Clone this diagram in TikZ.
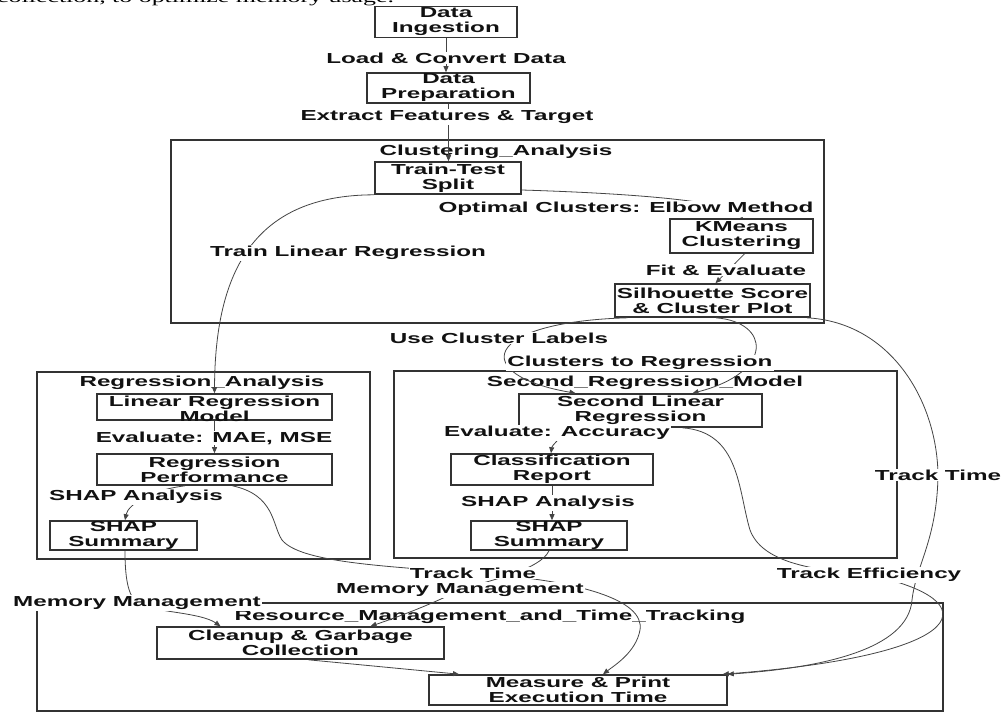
\documentclass[tikz,border=0pt]{standalone}
\usepackage{fontspec}
\setmainfont{Liberation Sans}[FakeStretch=1.67]
\newfontfamily\serifwide{Liberation Serif}[FakeStretch=1.67]
\usetikzlibrary{arrows.meta}
\definecolor{boxc}{HTML}{333333}
\definecolor{edgec}{HTML}{444444}
\definecolor{txtc}{HTML}{111111}
\newcommand\labfont{\fontsize{14.5}{15}\selectfont\bfseries}
\begin{document}
\begin{tikzpicture}[x=1pt,y=-1pt,
  box/.style={draw=boxc, line width=1.6pt, inner sep=0pt, align=center, font=\labfont, text=txtc},
  clus/.style={draw=boxc, line width=1.6pt},
  ctitle/.style={font=\labfont, text=txtc, inner sep=0pt},
  elab/.style={font=\labfont, text=txtc, fill=white, inner sep=1pt},
  edge/.style={draw=edgec, line width=0.8pt, -{Triangle[length=6pt,width=5pt]}},
]
\useasboundingbox (0,0) rectangle (1001,713);
\fill[white] (0,0) rectangle (1001,713);

% cut-off text of the page above
\node[anchor=base west, inner sep=0pt, font=\serifwide\fontsize{15.5}{18}\selectfont, text=black] (toptext) at (-3,2) {collection, to optimize memory usage.};

% clusters
\draw[clus] (171,140) rectangle (824,323);
\draw[clus] (37,372) rectangle (370,559);
\draw[clus] (394,371) rectangle (897,558);
\draw[clus] (37,603) rectangle (943,711);
\node[ctitle] (tclus) at (496,152) {Clustering\_Analysis};
\node[ctitle] (treg) at (202,383) {Regression\_Analysis};
\node[ctitle] (tsec) at (645,383) {Second\_Regression\_Model};
\node[ctitle] (tres) at (490,617) {Resource\_Management\_and\_Time\_Tracking};

% boxes
\node[box, minimum width=142pt, minimum height=31pt] (DI) at (446,22) {Data\\Ingestion};
\node[box, minimum width=163pt, minimum height=30pt] (DP) at (448.5,88) {Data\\Preparation};
\node[box, minimum width=146pt, minimum height=32pt] (TTS) at (448,178) {Train-Test\\Split};
\node[box, minimum width=143pt, minimum height=34pt] (KM) at (741.5,236) {KMeans\\Clustering};
\node[box, minimum width=195pt, minimum height=33pt] (SIL) at (712.5,300.5) {Silhouette Score\\\& Cluster Plot};
\node[box, minimum width=235pt, minimum height=26pt] (LRM) at (214.5,407) {};
\node[font=\labfont, align=center, inner sep=0pt, text=txtc] (LRMt) at (214.5,409) {Linear Regression\\Model};
\node[box, minimum width=235pt, minimum height=31pt] (RP) at (214.5,469.5) {Regression\\Performance};
\node[box, minimum width=147pt, minimum height=29pt] (SHAPL) at (123.5,535.5) {SHAP\\Summary};
\node[box, minimum width=243pt, minimum height=33pt] (SLR) at (640.5,410.5) {Second Linear\\Regression};
\node[box, minimum width=202pt, minimum height=31pt] (CR) at (552,469.5) {Classification\\Report};
\node[box, minimum width=156pt, minimum height=29pt] (SHAPR) at (549,535.5) {SHAP\\Summary};
\node[box, minimum width=287pt, minimum height=32pt] (CGC) at (300.5,643) {Cleanup \& Garbage\\Collection};
\node[box, minimum width=298pt, minimum height=30pt] (MPT) at (578,690) {Measure \& Print\\Execution Time};

% label positions
\coordinate (c8) at (938,475);
\coordinate (c11) at (473,573);
\coordinate (c14) at (869,575);
\coordinate (c15) at (137,603);
\coordinate (c16) at (460,590);

% connectors
\draw[edge] (DI.south) -- (DI.south |- DP.north);
\draw[edge] (DP.south) -- (DP.south |- TTS.north);
\draw[edge] ([yshift=-12pt]TTS.east) .. controls (620,193) and (725,200) .. ([xshift=1.5pt]KM.north);
\draw[edge] (TTS.south west) .. controls (255,195) and (215,270) .. (LRM.north);
\draw[edge] ([xshift=3pt]KM.south) -- ([xshift=3pt]SIL.north);
\draw[edge] ([xshift=-85pt]SIL.south) .. controls (480,322) and (470,375) .. ([xshift=-65pt]SLR.north);
\draw[edge] ([xshift=3.5pt]SIL.south) .. controls (770,322) and (775,372) .. ([xshift=52pt]SLR.north);
\draw[edge] ([xshift=-4pt]SIL.south east) .. controls (890,322) and (937,400) .. (c8)
  .. controls (937,540) and (916,565) .. (912,600) .. controls (908,650) and (820,668) .. (MPT.north east);
\draw[edge] (LRM.south) -- (RP.north);
\draw[edge] ([xshift=-29.5pt]RP.south) .. controls (150,490) and (128,505) .. ([xshift=1.5pt]SHAPL.north);
\draw[edge] ([xshift=18pt]RP.south) .. controls (275,495) and (272,525) .. (282,540)
  .. controls (300,562) and (380,566) .. (c11) .. controls (580,580) and (645,600) .. (640,630)
  .. controls (636,652) and (615,665) .. ([xshift=25pt]MPT.north);
\draw[edge] ([xshift=-75pt]SLR.south) .. controls (560,440) and (552,445) .. ([xshift=-1pt]CR.north);
\draw[edge] (CR.south) -- (CR.south |- SHAPR.north);
\draw[edge] ([xshift=42pt]SLR.south) .. controls (740,432) and (738,490) .. (750,530)
  .. controls (762,562) and (810,570) .. (c14) .. controls (990,600) and (975,655) .. ([xshift=-5pt]MPT.north east);
\draw[edge] ([xshift=1.5pt]SHAPL.south) .. controls (125,578) and (128,595) .. (c15)
  .. controls (150,612) and (200,612) .. ([xshift=-80pt]CGC.north);
\draw[edge] (SHAPR.south) .. controls (540,570) and (490,580) .. (c16)
  .. controls (430,605) and (395,618) .. ([xshift=70pt]CGC.north);
\draw[edge] ([xshift=8pt]CGC.south) -- ([xshift=-119pt]MPT.north);

% connector labels
\node[elab] (l1) at (446,58) {Load \& Convert Data};
\node[elab] (l2) at (447,117) {Extract Features \& Target};
\node[elab] (l3) at (626,209) {Optimal Clusters: Elbow Method};
\node[elab] (l4) at (348,253) {Train Linear Regression};
\node[elab] (l5) at (726,270) {Fit \& Evaluate};
\node[elab] (l6) at (499,338) {Use Cluster Labels};
\node[elab] (l7) at (640,363) {Clusters to Regression};
\node[elab] (l8) at (c8) {Track Time};
\node[elab] (l9) at (214,438) {Evaluate: MAE, MSE};
\node[elab] (l10) at (136,497) {SHAP Analysis};
\node[elab] (l11) at (c11) {Track Time};
\node[elab] (l12) at (557,433) {Evaluate: Accuracy};
\node[elab] (l13) at (548,503) {SHAP Analysis};
\node[elab] (l14) at (c14) {Track Efficiency};
\node[elab] (l15) at (c15) {Memory Management};
\node[elab] (l16) at (c16) {Memory Management};
\end{tikzpicture}
\end{document}
